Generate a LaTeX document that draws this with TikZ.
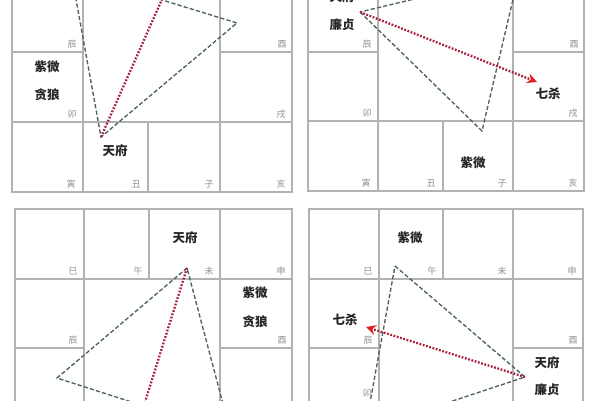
\documentclass[tikz,border=0pt]{standalone}
\usepackage{fontspec}
\newfontfamily\cjk{Noto Sans CJK SC}
\usetikzlibrary{arrows.meta}
\definecolor{gridc}{HTML}{B2B2B2}
\definecolor{labc}{HTML}{909090}
\definecolor{trig}{HTML}{4A655B}
\definecolor{redd}{HTML}{A8203A}
\definecolor{redt}{HTML}{E0201E}
\tikzset{
  gridline/.style={draw=gridc,line width=1.1pt},
  lab/.style={font=\cjk\fontsize{9}{10}\selectfont,text=labc,inner sep=0pt},
  star/.style={font=\cjk\bfseries\fontsize{12.5}{13}\selectfont,text=black!85,inner sep=0pt},
  trilink/.style={draw=trig,line width=1.35pt,dash pattern=on 4.2pt off 2.2pt},
  opplink/.style={draw=redd,line width=2.3pt,dash pattern=on 1.8pt off 1.6pt},
  opparrow/.style={opplink,-{Stealth[length=10pt,width=10pt,inset=3.5pt,color=redt]}},
}
% #1 prefix, #2..#6 column x positions; rows given by \yA..\yE
\newcommand\drawpanel[5]{%
  \draw[gridline] (#1,\yA) rectangle (#5,\yE);
  \draw[gridline] (#2,\yA) -- (#2,\yE);
  \draw[gridline] (#4,\yA) -- (#4,\yE);
  \draw[gridline] (#3,\yA) -- (#3,\yB);
  \draw[gridline] (#3,\yD) -- (#3,\yE);
  \draw[gridline] (#1,\yB) -- (#5,\yB);
  \draw[gridline] (#1,\yD) -- (#5,\yD);
  \draw[gridline] (#1,\yC) -- (#2,\yC);
  \draw[gridline] (#4,\yC) -- (#5,\yC);
}
% labels of the first row: prefix, x of right edges of the 4 columns
\newcommand\rowonelabels[5]{%
  \node[lab] (#1-si)   at (#2-11,\yB-8) {巳};
  \node[lab] (#1-wu)   at (#3-11,\yB-8) {午};
  \node[lab] (#1-wei)  at (#4-11,\yB-8) {未};
  \node[lab] (#1-shen) at (#5-11,\yB-8) {申};
}
\newcommand\rowtwolabels[3]{%
  \node[lab] (#1-chen) at (#2-11,\yC-8) {辰};
  \node[lab] (#1-you)  at (#3-10,\yC-8) {酉};
}
\newcommand\rowthreelabels[3]{%
  \node[lab] (#1-mao)  at (#2-11,\yD-8) {卯};
  \node[lab] (#1-xu)   at (#3-11,\yD-8) {戌};
}
\newcommand\rowfourlabels[5]{%
  \node[lab] (#1-yin)  at (#2-12,\yE-8) {寅};
  \node[lab] (#1-chou) at (#3-12,\yE-8) {丑};
  \node[lab] (#1-zi)   at (#4-11,\yE-8) {子};
  \node[lab] (#1-hai)  at (#5-11,\yE-8) {亥};
}
\begin{document}
\begin{tikzpicture}[x=1pt,y=-1pt]
\useasboundingbox (0,0) rectangle (600,400);
\fill[white] (0,0) rectangle (600,400);
\clip (0,0) rectangle (600,400);

% ---------- top left ----------
\def\yA{-88}\def\yB{-18}\def\yC{52}\def\yD{122}\def\yE{192}
\drawpanel{12}{83}{148}{220}{292}
\rowtwolabels{tl}{83}{292}
\rowthreelabels{tl}{83}{292}
\rowfourlabels{tl}{83}{148}{220}{292}
\node[star] (tl-zw) at (47,67) {紫微};
\node[star] (tl-tl) at (47,95) {贪狼};
\node[star] (tl-tf) at (115,151) {天府};
\coordinate (tlA) at (71,-28);
\coordinate (tlB) at (101,137);
\coordinate (tlC) at (237,23);
\coordinate (tlD) at (175,-30);
\draw[trilink] (tlA) -- (tlB) -- (tlC) -- cycle;
\draw[opparrow] (tlB) -- (tlD);

% ---------- top right ----------
\def\yA{-88}\def\yB{-18}\def\yC{52}\def\yD{121}\def\yE{191}
\drawpanel{308}{378}{443}{513}{584}
\rowtwolabels{tr}{378}{584}
\rowthreelabels{tr}{378}{584}
\rowfourlabels{tr}{378}{443}{513}{584}
\node[star] (tr-tf) at (342,-3) {天府};
\node[star] (tr-lz) at (342,25) {廉贞};
\node[star] (tr-qs) at (548,94) {七杀};
\node[star] (tr-zw) at (473,163) {紫微};
\coordinate (trA) at (360,12);
\coordinate (trB) at (482,131);
\coordinate (trC) at (519,-26);
\coordinate (trD) at (537,82);
\draw[trilink] (trA) -- (trB) -- (trC) -- cycle;
\draw[opparrow] (trA) -- (trD);

% ---------- bottom left ----------
\def\yA{209}\def\yB{279}\def\yC{348}\def\yD{418}\def\yE{488}
\drawpanel{15}{84}{149}{220}{292}
\rowonelabels{bl}{84}{149}{220}{292}
\rowtwolabels{bl}{84}{292}
\node[star] (bl-tf) at (185,238) {天府};
\node[star] (bl-zw) at (255,293) {紫微};
\node[star] (bl-tl) at (255,322) {贪狼};
\coordinate (blA) at (187,268);
\coordinate (blB) at (57,378);
\coordinate (blC) at (231,434);
\coordinate (blD) at (135,434);
\draw[trilink] (blA) -- (blB) -- (blC) -- cycle;
\draw[opparrow] (blA) -- (blD);

% ---------- bottom right ----------
\def\yA{209}\def\yB{279}\def\yC{348}\def\yD{418}\def\yE{488}
\drawpanel{309}{379}{443}{513}{583}
\rowonelabels{br}{379}{443}{513}{583}
\rowtwolabels{br}{379}{583}
\node[lab] (br-mao) at (367,393) {卯};
\node[star] (br-zw) at (410,238) {紫微};
\node[star] (br-qs) at (345,320) {七杀};
\node[star] (br-tf) at (547,363) {天府};
\node[star] (br-lz) at (547,390) {廉贞};
\coordinate (brA) at (395,266);
\coordinate (brB) at (525,377);
\coordinate (brC) at (365,430);
\coordinate (brD) at (366,327);
\draw[trilink] (brA) -- (brB) -- (brC) -- cycle;
\draw[opparrow] (brB) -- (brD);
\end{tikzpicture}
\end{document}
